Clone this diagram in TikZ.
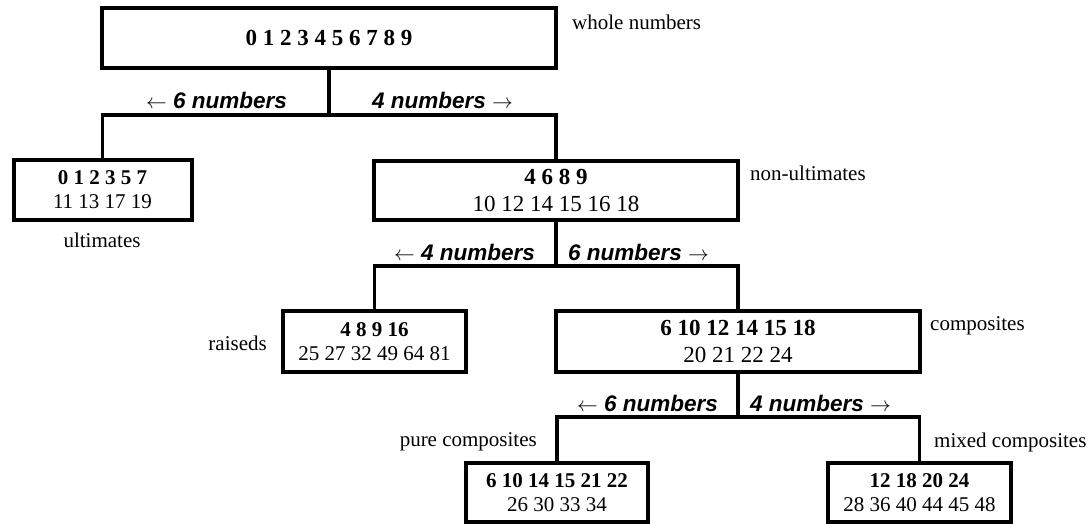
\documentclass[tikz,border=0pt]{standalone}
\usepackage{fontspec}
\setmainfont{Liberation Serif}
\newfontfamily\labsans{Liberation Sans}
\begin{document}
\begin{tikzpicture}[x=1pt,y=-1pt,
  box/.style={draw, line width=4pt, inner sep=0pt, align=center, font=\fontsize{21}{24}\selectfont},
  bigbox/.style={box, font=\fontsize{23}{27}\selectfont},
  conn/.style={line width=3.5pt},
  cnt/.style={font=\labsans\bfseries\itshape\fontsize{22.5}{26}\selectfont, inner sep=0pt},
  tag/.style={font=\fontsize{21}{24}\selectfont, inner sep=0pt}]
\useasboundingbox (0,0) rectangle (1091,524);

% boxes
\node[bigbox, minimum width=454pt, minimum height=60pt] (whole) at (329,38) {\raisebox{-3pt}{\textbf{0 1 2 3 4 5 6 7 8 9}}};
\node[box, minimum width=178pt, minimum height=60pt] (ult) at (102.5,190) {\textbf{0 1 2 3 5 7}\\11 13 17 19};
\node[bigbox, minimum width=364pt, minimum height=59pt] (nonult) at (556,190.5) {\textbf{4 6 8 9}\\10 12 14 15 16 18};
\node[box, minimum width=183pt, minimum height=61pt] (rais) at (374.5,341.5) {\textbf{4 8 9 16}\\25 27 32 49 64 81};
\node[bigbox, minimum width=364pt, minimum height=61pt] (comp) at (738,341.5) {\textbf{6 10 12 14 15 18}\\20 21 22 24};
\node[box, minimum width=182pt, minimum height=59pt] (pure) at (557,492.5) {\textbf{6 10 14 15 21 22}\\26 30 33 34};
\node[box, minimum width=183pt, minimum height=59pt] (mixed) at (919.5,492.5) {\textbf{12 18 20 24}\\28 36 40 44 45 48};

% junctions
\coordinate (j1) at (329,115);
\coordinate (j2) at (556,266);
\coordinate (j3) at (738,417);

% connectors
\draw[conn] (whole.south) -- (j1);
\draw[conn] (ult.north) |- (j1) -| (nonult.north);
\draw[conn] (nonult.south) -- (j2);
\draw[conn] (rais.north) |- (j2) -| (comp.north);
\draw[conn] (comp.south) -- (j3);
\draw[conn] (pure.north) |- (j3) -| (mixed.north);

% count labels
\node[cnt, anchor=east] (c1l) at (287,100) {$\leftarrow$ 6 numbers};
\node[cnt, anchor=west] (c1r) at (372,100) {4 numbers $\rightarrow$};
\node[cnt, anchor=east] (c2l) at (535,252) {$\leftarrow$ 4 numbers};
\node[cnt, anchor=west] (c2r) at (568,252) {6 numbers $\rightarrow$};
\node[cnt, anchor=east] (c3l) at (718,403) {$\leftarrow$ 6 numbers};
\node[cnt, anchor=west] (c3r) at (750,403) {4 numbers $\rightarrow$};

% category tags
\node[tag, anchor=west] (t1) at (572,22) {whole numbers};
\node[tag] (t2) at (102,240) {ultimates};
\node[tag, anchor=west] (t3) at (750,173) {non-ultimates};
\node[tag, anchor=east] (t4) at (267,343) {raiseds};
\node[tag, anchor=west] (t5) at (930,326) {composites};
\node[tag, anchor=east] (t6) at (537,442) {pure composites};
\node[tag, anchor=west] (t7) at (934,442) {mixed composites};
\end{tikzpicture}
\end{document}
